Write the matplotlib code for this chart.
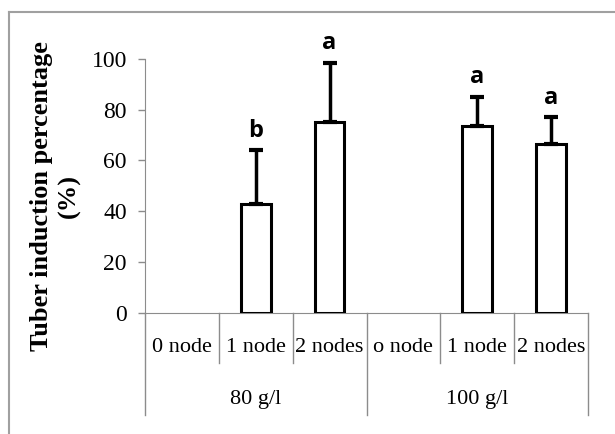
import numpy as np
import matplotlib
matplotlib.use("Agg")
import matplotlib.pyplot as plt
from matplotlib.lines import Line2D

# data
nodes = ["0 node", "1 node", "2 nodes", "o node", "1 node", "2 nodes"]
groups = ["80 g/l", "100 g/l"]
means = [0, 43, 75, 0, 73.5, 66.5]
errors = [0, 21, 23.5, 0, 11.5, 10.5]
letters = ["", "b", "a", "", "a", "a"]
yticks = [0, 20, 40, 60, 80, 100]

serif = ["Liberation Serif", "DejaVu Serif"]
grey = "#8c8c8c"

fig = plt.figure(figsize=(6.15, 4.34), dpi=100)
ax = fig.add_axes([145 / 615, 1 - 312.7 / 434, 443 / 615, 253.7 / 434])

x = np.arange(len(nodes))
shown = [i for i in x if means[i] > 0]
ax.bar([x[i] for i in shown], [means[i] for i in shown], width=0.4, color="white",
       edgecolor="black", linewidth=2.2, zorder=3)
ax.errorbar([x[i] for i in shown], [means[i] for i in shown],
            yerr=[[0] * len(shown), [errors[i] for i in shown]],
            fmt="none", ecolor="black", elinewidth=2.5, capsize=5, capthick=3, zorder=4)

for i in shown:
    ax.text(x[i], means[i] + errors[i] + 3, letters[i], ha="center", va="bottom",
            fontsize=17, fontweight="bold", family=["Open Sans", "DejaVu Sans"])

ax.set_xlim(-0.5, len(nodes) - 0.5)
ax.set_ylim(0, 100)
ax.set_yticks(yticks)
ax.set_yticklabels([str(t) for t in yticks], family=serif, fontsize=17)
ax.tick_params(axis="y", direction="out", length=5, color=grey, width=1, pad=8)
ax.set_xticks([])

for side in ["top", "right"]:
    ax.spines[side].set_visible(False)
ax.spines["left"].set_color(grey)
ax.spines["bottom"].set_color(grey)

# two-level category axis
tr = ax.get_xaxis_transform()
for i, lab in enumerate(nodes):
    ax.text(x[i], -0.139, lab, transform=tr, ha="center", va="center",
            family=serif, fontsize=16)
for b in np.arange(0.5, len(nodes) - 1, 1.0):
    if b == 2.5:
        continue
    ax.plot([b, b], [0, -0.198], transform=tr, color=grey, lw=1, clip_on=False)
for b in [-0.5, 2.5, len(nodes) - 0.5]:
    ax.plot([b, b], [0, -0.403], transform=tr, color=grey, lw=1, clip_on=False)
for g, lab in enumerate(groups):
    ax.text(1 + 3 * g, -0.344, lab, transform=tr, ha="center", va="center",
            family=serif, fontsize=16)

fig.text(55 / 615, 1 - 196 / 434, "Tuber induction percentage\n(%)", rotation=90,
         ha="center", va="center", family=serif, fontsize=19, fontweight="bold",
         linespacing=1.25)

# outer chart frame (only top and left edges visible)
fig.add_artist(Line2D([9 / 615, 1], [1 - 12 / 434, 1 - 12 / 434], color="#a0a0a0", lw=1.5))
fig.add_artist(Line2D([9 / 615, 9 / 615], [0, 1 - 12 / 434], color="#a0a0a0", lw=1.5))

fig.savefig("out.png", dpi=100)
